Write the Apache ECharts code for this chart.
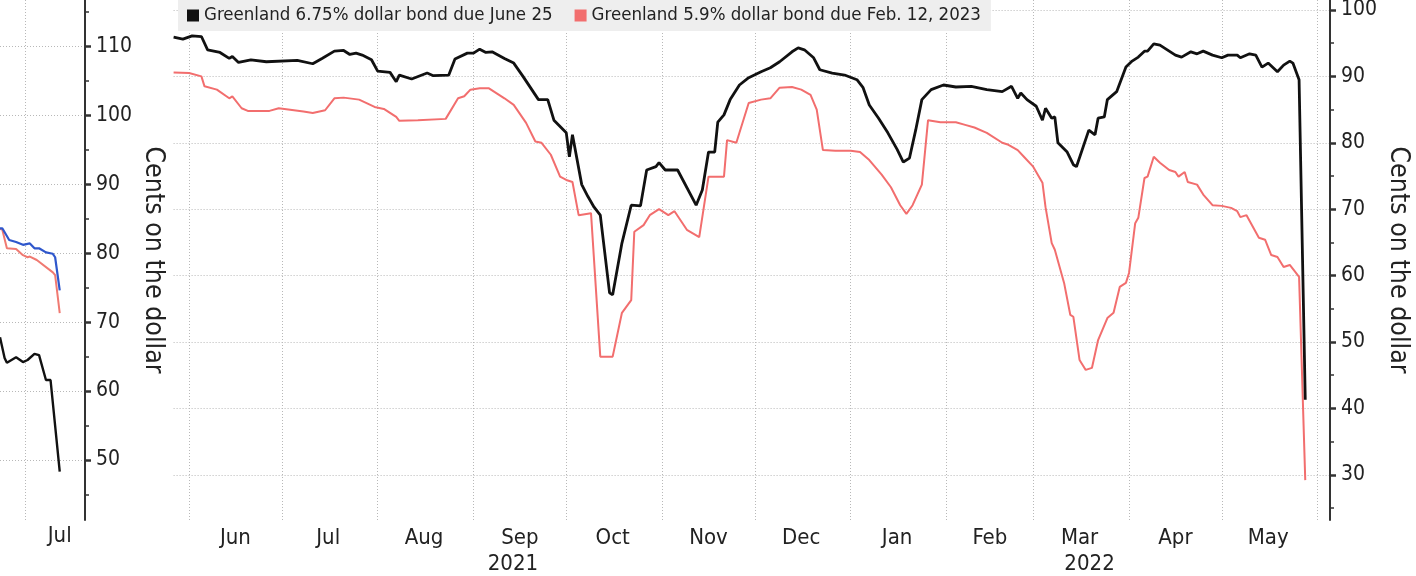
<!DOCTYPE html>
<html>
<head>
<meta charset="utf-8">
<title>Greenland dollar bonds</title>
<script src="https://cdn.jsdelivr.net/npm/echarts@6/dist/echarts.min.js"></script>
<style>
  html, body { margin: 0; padding: 0; background: #fff; }
  #chart { width: 1416px; height: 576px; }
</style>
</head>
<body>
<div id="chart"></div>
<script>
// ---- main chart: days are counted from 27 May 2021 ----
var mainStart = '2021-05-27'
var mainLastDay = 374
var monthNames = ['Jan', 'Feb', 'Mar', 'Apr', 'May', 'Jun', 'Jul', 'Aug', 'Sep', 'Oct', 'Nov', 'Dec']
var yearMarks = ['2021-09', '2022-03']   // year written under these months

var nameBlack = 'Greenland 6.75% dollar bond due June 25'
var nameRed = 'Greenland 5.9% dollar bond due Feb. 12, 2023'

// [day, cents on the dollar]
var blackBond = [
  [0, 95.9], [3, 95.6], [6, 96.1], [9, 96.0], [11, 94.0], [15, 93.6], [18, 92.7], [19, 93.0],
  [21, 92.1], [25, 92.5], [30, 92.2], [40, 92.4], [45, 91.9], [48, 92.7], [52, 93.8], [55, 93.9],
  [57, 93.3], [59, 93.5], [61, 93.2], [64, 92.5], [66, 90.8], [70, 90.6], [72, 89.2], [73, 90.2],
  [77, 89.6], [82, 90.5], [84, 90.1], [89, 90.2], [91, 92.6], [95, 93.5], [97, 93.5], [99, 94.1],
  [101, 93.6], [103, 93.7], [107, 92.7], [110, 92.0], [113, 90.0], [118, 86.5], [121, 86.5], [123, 83.4],
  [127, 81.5], [128, 77.9], [129, 81.2], [132, 73.7], [134, 71.9], [136, 70.3], [138, 69.1], [141, 57.4],
  [142, 57.1], [145, 64.9], [148, 70.6], [151, 70.5], [153, 75.9], [156, 76.4], [157, 77.0], [159, 75.9],
  [163, 75.9], [169, 70.6], [171, 72.9], [173, 78.6], [175, 78.6], [176, 83.1], [178, 84.2], [180, 86.5],
  [183, 88.7], [186, 89.8], [190, 90.7], [193, 91.3], [196, 92.2], [200, 93.7], [202, 94.3], [204, 94.0],
  [207, 92.8], [209, 91.0], [213, 90.5], [217, 90.2], [221, 89.5], [223, 88.3], [225, 85.7], [228, 83.7],
  [231, 81.5], [234, 79.0], [236, 77.1], [238, 77.7], [240, 81.9], [242, 86.5], [245, 88.0], [249, 88.7],
  [253, 88.4], [258, 88.5], [263, 88.0], [268, 87.7], [271, 88.5], [273, 86.7], [274, 87.5], [276, 86.5],
  [279, 85.5], [281, 83.4], [282, 85.2], [284, 83.7], [285, 83.9], [286, 80.0], [289, 78.6], [291, 76.7],
  [292, 76.4], [296, 81.9], [298, 81.2], [299, 83.7], [301, 83.9], [302, 86.5], [305, 87.7], [308, 91.4],
  [310, 92.3], [312, 92.9], [314, 93.8], [315, 93.8], [317, 94.9], [319, 94.7], [324, 93.2], [326, 92.9],
  [329, 93.7], [331, 93.4], [333, 93.8], [336, 93.2], [339, 92.8], [341, 93.2], [344, 93.2], [345, 92.8],
  [348, 93.4], [350, 93.2], [352, 91.4], [354, 92.0], [357, 90.7], [359, 91.7], [361, 92.3], [362, 92.0],
  [364, 89.5], [366, 41.3]
]

var redBond = [
  [0, 90.6], [5, 90.5], [9, 90.0], [10, 88.5], [14, 88.0], [18, 86.7], [19, 87.0], [22, 85.2],
  [24, 84.8], [31, 84.8], [34, 85.2], [42, 84.7], [45, 84.5], [49, 84.9], [52, 86.7], [55, 86.8],
  [60, 86.5], [65, 85.4], [68, 85.1], [72, 83.9], [73, 83.3], [79, 83.4], [88, 83.6], [92, 86.7],
  [94, 87.0], [96, 88.0], [99, 88.2], [102, 88.2], [107, 86.7], [110, 85.7], [114, 83.0], [117, 80.2],
  [119, 80.0], [122, 78.2], [125, 74.9], [127, 74.4], [129, 74.1], [131, 69.1], [135, 69.4], [138, 47.8],
  [142, 47.8], [145, 54.4], [148, 56.3], [149, 66.6], [152, 67.6], [154, 69.1], [157, 70.0], [160, 69.1],
  [162, 69.7], [166, 66.9], [170, 65.8], [173, 74.9], [178, 74.9], [179, 80.4], [182, 80.0], [183, 81.5],
  [186, 86.0], [190, 86.5], [193, 86.7], [196, 88.3], [200, 88.4], [203, 88.0], [206, 87.2], [208, 85.0],
  [210, 78.9], [214, 78.8], [219, 78.8], [222, 78.6], [225, 77.4], [229, 75.2], [232, 73.3], [235, 70.6],
  [237, 69.3], [239, 70.6], [242, 73.7], [244, 83.4], [248, 83.1], [253, 83.1], [256, 82.7], [259, 82.3],
  [263, 81.5], [268, 80.0], [270, 79.7], [273, 78.9], [275, 77.9], [278, 76.4], [281, 74.0], [282, 70.3],
  [284, 64.9], [285, 63.9], [288, 58.9], [290, 54.1], [291, 53.8], [293, 47.3], [295, 45.8], [297, 46.1],
  [299, 50.3], [302, 53.6], [304, 54.4], [306, 58.3], [308, 58.9], [309, 60.4], [311, 67.9], [312, 68.7],
  [314, 74.7], [315, 74.9], [317, 77.9], [319, 77.0], [322, 75.9], [324, 75.6], [325, 74.9], [327, 75.6],
  [328, 74.1], [331, 73.7], [333, 72.2], [336, 70.6], [339, 70.5], [342, 70.2], [344, 69.7], [345, 68.8],
  [347, 69.1], [351, 65.7], [353, 65.4], [355, 63.1], [357, 62.8], [359, 61.3], [361, 61.6], [364, 59.8],
  [366, 29.2]
]

var rightTicks = [30, 40, 50, 60, 70, 80, 90, 100]
var rightMinorTicks = [25, 35, 45, 55, 65, 75, 85, 95]

// ---- cut-off chart on the left: days counted from 20 June 2022 ----
var leftStart = '2022-06-20'
var leftLastDay = 37
var leftBlue = [[0, 83.6], [1, 83.6], [4, 81.9], [7, 81.6], [10, 81.2], [13, 81.4], [15, 80.7], [17, 80.7],
  [20, 80.1], [23, 79.9], [24, 79.4], [26, 74.6]]
var leftRed = [[0, 83.5], [1, 83.4], [3, 80.7], [7, 80.6], [10, 79.7], [12, 79.4], [13, 79.5], [16, 79.0],
  [23, 77.2], [24, 76.8], [26, 71.3]]
var leftBlack = [[0, 67.8], [2, 64.8], [3, 64.1], [7, 64.9], [10, 64.2], [12, 64.5], [15, 65.4], [17, 65.2],
  [20, 61.6], [22, 61.6], [26, 48.3]]
var leftTicks = [50, 60, 70, 80, 90, 100, 110]
var leftMinorTicks = [45, 55, 65, 75, 85, 95, 105, 115]

var FONT = "'DejaVu Sans Condensed', 'DejaVu Sans', sans-serif"
var INK = '#222'
var AXIS = '#333'
var GRID = '#b8b8b8'
var DOTS = [1, 2]

// the two plot areas, shared by the tick overlays
var mainBox = { left: 173.6, right: 86, top: 0, bottom: 56, outerBoundsMode: 'none', containLabel: false }
var leftBox = { left: 0, right: 1331, top: 0, bottom: 56, outerBoundsMode: 'none', containLabel: false }
var mainRange = [23.2, 101.5]
var leftRange = [41.3, 116.7]

function dayList(start, last) {
  var out = []
  var t0 = Date.parse(start + 'T00:00:00Z')
  for (var i = 0; i <= last; i++) {
    out.push(new Date(t0 + i * 864e5).toISOString().slice(0, 10))
  }
  return out
}
var mainDates = dayList(mainStart, mainLastDay)
var leftDates = dayList(leftStart, leftLastDay)

// month label sits in the middle of the month, grid line on the 1st
function isMidMonth(v) {
  var m = +v.slice(5, 7)
  return +v.slice(8) === (m === 2 ? 15 : 16)
}
function isFirst(v) { return v.slice(8) === '01' }

function monthLabel(v) {
  var m = monthNames[+v.slice(5, 7) - 1]
  var k = yearMarks.indexOf(v.slice(0, 7))
  if (k < 0) return m
  return m + '\n{y' + k + '|' + v.slice(0, 4) + '}'
}

function valueAxis(grid, range, labels) {
  return {
    type: 'value', gridIndex: grid, position: 'right', min: range[0], max: range[1], splitNumber: 8,
    name: 'Cents on the dollar',
    nameLocation: 'middle', nameRotate: -90, nameGap: 54, nameMoveOverlap: false,
    nameTextStyle: { fontSize: 26.5, color: INK, fontFamily: FONT },
    axisLine: { show: true, onZero: false, lineStyle: { color: AXIS, width: 2 } },
    axisTick: { show: false },
    axisLabel: { customValues: labels, margin: 11, fontSize: 21, color: INK, fontFamily: FONT },
    splitLine: { show: true, showMinLine: false, showMaxLine: false,
      lineStyle: { type: DOTS, color: GRID, width: 1 } }
  }
}

// tick-only axis laid over a plot area
function tickAxis(grid, range, ticks, len, width) {
  return {
    type: 'value', gridIndex: grid, position: 'right', min: range[0], max: range[1], splitNumber: 8,
    axisLine: { show: false, onZero: false },
    axisTick: { show: true, length: len, customValues: ticks, lineStyle: { color: AXIS, width: width } },
    axisLabel: { show: false },
    splitLine: { show: false }
  }
}

function line(name, data, color, width, xi) {
  return {
    name: name, type: 'line', xAxisIndex: xi, yAxisIndex: xi, data: data,
    showSymbol: false, symbol: 'none', lineStyle: { color: color, width: width },
    itemStyle: { color: color }, silent: true
  }
}

var chart = echarts.init(document.getElementById('chart'))

chart.setOption({
  animation: false,
  backgroundColor: '#fff',
  textStyle: { fontFamily: FONT },
  legend: {
    data: [nameBlack, nameRed],
    left: 178, top: 0,
    padding: [6, 10, 6, 9],
    backgroundColor: '#eeeeee',
    icon: 'rect', itemWidth: 12, itemHeight: 12, itemGap: 22,
    textStyle: { fontSize: 18.5, color: INK, fontFamily: FONT },
    selectedMode: false
  },
  grid: [mainBox, leftBox, mainBox, leftBox, mainBox, leftBox],
  xAxis: [
    {
      type: 'category', gridIndex: 0, data: mainDates, boundaryGap: false,
      axisLine: { show: false }, axisTick: { show: false },
      axisLabel: {
        interval: function (i, v) { return isMidMonth(v) },
        formatter: monthLabel,
        margin: 5, fontSize: 22, lineHeight: 26, color: INK, fontFamily: FONT,
        rich: {
          y0: { fontSize: 22, lineHeight: 26, color: INK, fontFamily: FONT, padding: [0, 14, 0, 0] },
          y1: { fontSize: 22, lineHeight: 26, color: INK, fontFamily: FONT, padding: [0, 0, 0, 20] }
        }
      },
      splitLine: {
        show: true,
        interval: function (i, v) { return isFirst(v) },
        lineStyle: { type: DOTS, color: GRID, width: 1 }
      }
    },
    {
      type: 'category', gridIndex: 1, data: leftDates, boundaryGap: false,
      axisLine: { show: false }, axisTick: { show: false },
      axisLabel: {
        interval: function (i, v) { return isMidMonth(v) },
        formatter: function (v) { return monthNames[+v.slice(5, 7) - 1] },
        margin: 5, fontSize: 22, color: INK, fontFamily: FONT
      },
      splitLine: {
        show: true,
        interval: function (i, v) { return isFirst(v) },
        lineStyle: { type: DOTS, color: GRID, width: 1 }
      }
    },
    { type: 'value', gridIndex: 2, show: false },
    { type: 'value', gridIndex: 3, show: false },
    { type: 'value', gridIndex: 4, show: false },
    { type: 'value', gridIndex: 5, show: false }
  ],
  yAxis: [
    valueAxis(0, mainRange, rightTicks),
    valueAxis(1, leftRange, leftTicks),
    tickAxis(2, mainRange, rightTicks, 6, 2.5),
    tickAxis(3, leftRange, leftTicks, 6, 2.5),
    tickAxis(4, mainRange, rightMinorTicks, 4, 1.5),
    tickAxis(5, leftRange, leftMinorTicks, 4, 1.5)
  ],
  series: [
    line(nameRed, redBond, '#f26e6e', 2, 0),
    line(nameBlack, blackBond, '#111111', 2.8, 0),
    line('left red', leftRed, '#f07a72', 2, 1),
    line('left blue', leftBlue, '#2f57cc', 2.2, 1),
    line('left black', leftBlack, '#111111', 2.4, 1)
  ]
})
</script>
</body>
</html>
